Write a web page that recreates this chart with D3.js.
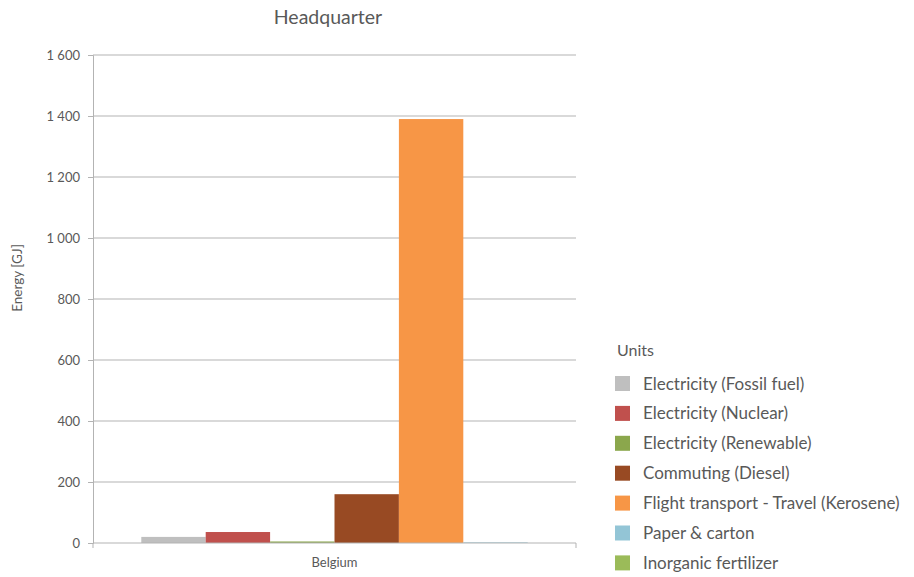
<!DOCTYPE html>
<html>
<head>
<meta charset="utf-8">
<script src="https://cdn.jsdelivr.net/npm/d3@7/dist/d3.min.js"></script>
<style>
  html, body { margin: 0; padding: 0; background: #fff; }
  svg text { font-family: "Lato", "Open Sans", sans-serif; fill: #595959; }
</style>
</head>
<body>
<svg id="chart" width="914" height="577"></svg>
<script>
// Energy use of the headquarter, by source
const categories = ["Belgium"];
const seriesNames = [
  "Electricity (Fossil fuel)",
  "Electricity (Nuclear)",
  "Electricity (Renewable)",
  "Commuting (Diesel)",
  "Flight transport - Travel (Kerosene)",
  "Paper & carton",
  "Inorganic fertilizer"
];
// null = no bar drawn for that series
const seriesValues = [20, 36, 5, 160, 1390, 2, null];
const seriesColors = ["#BFBFBF", "#C0504D", "#8BA74C", "#984A23", "#F79646", "#93C5D6", "#9BBB59"];
const yTicks = [0, 200, 400, 600, 800, 1000, 1200, 1400, 1600];
const yTickLabels = ["0", "200", "400", "600", "800", "1 000", "1 200", "1 400", "1 600"];

const svg = d3.select("#chart");
const plot = { left: 93, right: 576, top: 55, bottom: 543 };

const y = d3.scaleLinear().domain([0, 1600]).range([plot.bottom, plot.top]);
const x0 = d3.scaleBand().domain(categories).range([plot.left, plot.right]);

// series that actually occupy a slot in the cluster
const drawn = seriesNames.map((n, i) => ({ name: n, value: seriesValues[i], color: seriesColors[i] }))
  .filter(d => d.value !== null);
const x1 = d3.scaleBand().domain(drawn.map(d => d.name))
  .range([0, x0.bandwidth()]).paddingOuter(0.75).paddingInner(0);

// gridlines
svg.append("g")
  .selectAll("line")
  .data(yTicks.filter(t => t > 0))
  .join("line")
  .attr("x1", plot.left).attr("x2", plot.right)
  .attr("y1", d => y(d)).attr("y2", d => y(d))
  .attr("stroke", "#B3B3B3").attr("stroke-width", 1);

// bars
svg.append("g")
  .selectAll("rect")
  .data(drawn)
  .join("rect")
  .attr("x", d => x0(categories[0]) + x1(d.name))
  .attr("width", x1.bandwidth())
  .attr("y", d => y(d.value))
  .attr("height", d => y(0) - y(d.value))
  .attr("fill", d => d.color);

// y axis
const yAxis = d3.axisLeft(y).tickValues(yTicks)
  .tickFormat((d, i) => yTickLabels[i]).tickSize(5).tickPadding(8);
const gy = svg.append("g").attr("transform", `translate(${plot.left},0)`).call(yAxis);
gy.select(".domain").attr("stroke", "#B3B3B3");
gy.selectAll(".tick line").attr("stroke", "#B3B3B3");
gy.selectAll(".tick text").attr("font-size", 13).attr("fill", "#595959");

// x axis
const xAxis = d3.axisBottom(x0).tickSize(0).tickPadding(15);
const gx = svg.append("g").attr("transform", `translate(0,${plot.bottom})`).call(xAxis);
gx.select(".domain").attr("stroke", "#B3B3B3").attr("d", `M${plot.left},5V0H${plot.right}V5`);
gx.selectAll(".tick text").attr("font-size", 13).attr("fill", "#595959");

// title
svg.append("text").attr("x", 328).attr("y", 24).attr("text-anchor", "middle")
  .attr("font-size", 19.5).text("Headquarter");

// y axis label
svg.append("text").attr("transform", "translate(22,278) rotate(-90)")
  .attr("text-anchor", "middle").attr("font-size", 13.5).text("Energy [GJ]");

// legend
const legend = svg.append("g").attr("transform", "translate(615,0)");
legend.append("text").attr("x", 2).attr("y", 356).attr("font-size", 16).text("Units");
const items = legend.selectAll("g.item")
  .data(seriesNames.map((n, i) => ({ name: n, color: seriesColors[i] })))
  .join("g").attr("class", "item")
  .attr("transform", (d, i) => `translate(0,${376 + i * 29.9})`);
items.append("rect").attr("width", 15).attr("height", 15).attr("fill", d => d.color);
items.append("text").attr("x", 28).attr("y", 13.5).attr("font-size", 17).text(d => d.name);
</script>
</body>
</html>
